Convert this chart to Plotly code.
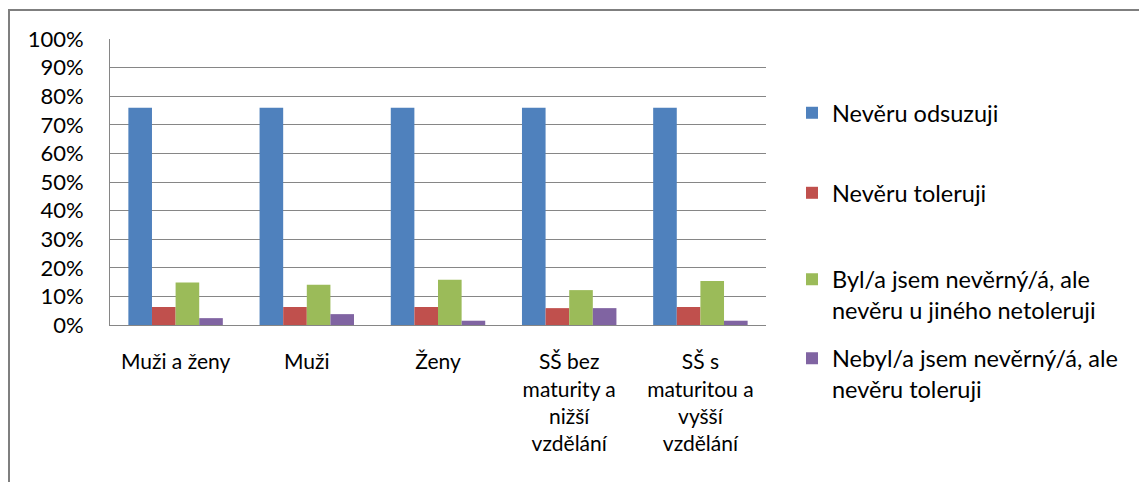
import plotly.graph_objects as go

categories = ["Muži a ženy", "Muži", "Ženy",
              "SŠ bez<br>maturity a<br>nižší<br>vzdělání",
              "SŠ s<br>maturitou a<br>vyšší<br>vzdělání"]

odsuzuji = [0.76, 0.76, 0.76, 0.76, 0.76]
toleruji = [0.063, 0.063, 0.063, 0.059, 0.063]
byl_netoleruji = [0.149, 0.141, 0.158, 0.122, 0.154]
nebyl_toleruji = [0.024, 0.038, 0.015, 0.059, 0.015]

series = [
    ("Nevěru odsuzuji", odsuzuji, "#4F81BD"),
    ("Nevěru toleruji", toleruji, "#C0504D"),
    ("Byl/a jsem nevěrný/á, ale<br>nevěru u jiného netoleruji", byl_netoleruji, "#9BBB59"),
    ("Nebyl/a jsem nevěrný/á, ale<br>nevěru toleruji", nebyl_toleruji, "#8064A2"),
]

# where each legend entry sits (paper y, middle anchored) - Excel spreads them out
legend_names = ["legend", "legend2", "legend3", "legend4"]
legend_y = [0.7413, 0.4615, 0.1049, -0.1713]

FONT = "Lato"

fig = go.Figure()
for (name, vals, color), lg in zip(series, legend_names):
    fig.add_trace(go.Bar(
        x=categories, y=vals, name=name,
        marker=dict(color=color, line=dict(width=0)),
        legend=lg,
    ))

# page has an 8px body margin, so the figure itself is 8px smaller
W, H = 1139, 474
L, R, T, B = 102, 381, 31, 157
pw, ph = W - L - R, H - T - B

layout_legends = {}
for lg, ly in zip(legend_names, legend_y):
    layout_legends[lg] = dict(
        x=(784 - L) / pw, xanchor="left",
        y=ly, yanchor="middle",
        valign="top",
        font=dict(family=FONT, size=23.5, color="#000000"),
        bgcolor="rgba(0,0,0,0)",
        itemclick=False,
    )

# outer chart frame (left and top edges only visible)
fx0 = (1 - L) / pw
fx1 = (W + 5 - L) / pw
fy_top = (H - B - 2) / ph
fy_bot = (H - B - H - 5) / ph

fig.update_layout(
    width=W, height=H,
    margin=dict(l=L, r=R, t=T, b=B),
    paper_bgcolor="white", plot_bgcolor="white",
    barmode="group", bargap=0.28, bargroupgap=0,
    font=dict(family=FONT, size=21, color="#000000"),
    showlegend=True,
    xaxis=dict(
        showgrid=False, showline=True, linecolor="#868686", linewidth=1,
        ticks="", tickfont=dict(family=FONT, size=21),
        ticklabelstandoff=18,
    ),
    yaxis=dict(
        range=[0, 1], dtick=0.1, tickformat=".0%",
        showgrid=True, gridcolor="#868686", gridwidth=1,
        showline=True, linecolor="#868686", linewidth=1, mirror=False,
        zeroline=False, ticks="",
        tickfont=dict(family=FONT, size=22),
        ticklabelstandoff=21,
    ),
    shapes=[dict(
        type="path", xref="paper", yref="paper",
        path=f"M {fx0},{fy_bot} L {fx0},{fy_top} L {fx1},{fy_top}",
        line=dict(color="#7F7F7F", width=2),
    )],
    **layout_legends,
)

fig.write_html("out.html")
